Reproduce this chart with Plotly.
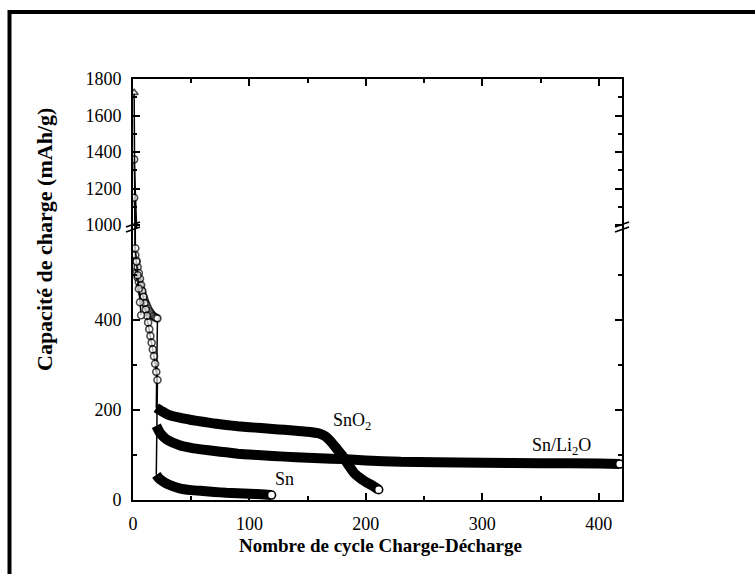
import plotly.graph_objects as go

# ---------------- data ----------------
# first ~20 cycles (open markers)
sno2_early_cycles = [1, 2, 3, 4, 5, 6, 7, 8, 9, 10, 11, 12, 13, 14, 15, 16, 17, 18, 19, 20, 21]
sno2_early_vals = [1360, 520, 505, 495, 485, 476, 468, 460, 452, 445, 438, 432, 426, 421, 417, 413, 410, 408, 406, 405, 404]

sn_early_cycles = [1, 2, 3, 4, 5, 6, 7, 8, 9, 10, 11, 12, 13, 14, 15, 16, 17, 18, 19, 20, 21]
sn_early_vals = [1725, 545, 532, 518, 505, 492, 478, 465, 452, 438, 424, 410, 395, 380, 365, 350, 335, 320, 303, 285, 267]

snli_early_cycles = [1, 2, 3, 4, 5, 6, 7]
snli_early_vals = [1150, 560, 530, 500, 470, 440, 411]

# long-term cycling (dense bands)
sno2_cycles = [20, 25, 30, 40, 50, 60, 70, 80, 90, 100, 110, 120, 130, 140, 150, 160, 165,
               170, 175, 180, 185, 190, 195, 200, 205, 211]
sno2_vals = [205, 197, 190, 183, 178, 174, 170, 167, 164, 162, 160, 158, 156, 154, 152, 148, 142,
             130, 114, 98, 78, 60, 49, 40, 33, 23]

snli_cycles = [20, 23, 26, 30, 40, 50, 60, 70, 80, 90, 100, 120, 140, 160, 180, 200, 230, 260,
               300, 350, 400, 418]
snli_vals = [165, 150, 141, 133, 122, 116, 112, 109, 106, 103, 101, 98, 95, 93, 91, 88, 85, 84,
             83, 82, 81, 80]

sn_cycles = [20, 22, 26, 30, 40, 50, 60, 70, 80, 90, 100, 110, 119]
sn_vals = [56, 49, 41, 35, 26, 22, 20, 18, 16, 15, 14, 13, 11]

x_ticks = [0, 100, 200, 300, 400]
x_minor = [50, 150, 250, 350]
y_low_ticks = [0, 200, 400]
y_low_minor = [100, 300, 500]
y_high_ticks = [1000, 1200, 1400, 1600, 1800]
y_high_minor = [1100, 1300, 1500, 1700]

x_title = "Nombre de cycle Charge-Décharge"
y_title = "Capacité de charge (mAh/g)"
labels = ["SnO<sub>2</sub>", "Sn/Li<sub>2</sub>O", "Sn"]
label_pos = [(188, 174), (368, 120), (130, 47)]

# ---------------- layout geometry ----------------
W, H = 755, 574
L, R, T, B = 133, 622, 79, 500
PW, PH = R - L, B - T
split = (B - 228) / PH


def px(xp):
    return (xp - L) / PW


def py(yp):
    return (B - yp) / PH


FONT = "Liberation Serif"
fig = go.Figure()


def early_traces(cx, cy, sym0, connect_to=None):
    xs, ys = list(cx), list(cy)
    sizes = [7] * len(xs)
    syms = [sym0] + ["circle"] * (len(xs) - 1)
    if connect_to is not None:
        xs.append(connect_to[0])
        ys.append(connect_to[1])
        sizes.append(0)
        syms.append("circle")
    out = []
    for xa, ya in (("x", "y"), ("x2", "y2")):
        out.append(go.Scatter(
            x=xs, y=ys, mode="lines+markers", xaxis=xa, yaxis=ya,
            line=dict(color="black", width=1.5),
            marker=dict(color="white", size=sizes, symbol=syms,
                        line=dict(color="black", width=1.6)),
            showlegend=False, hoverinfo="skip"))
    return out


for t in early_traces(sno2_early_cycles, sno2_early_vals, "circle",
                      (sno2_cycles[0], sno2_vals[0])):
    fig.add_trace(t)
for t in early_traces(sn_early_cycles, sn_early_vals, "triangle-up",
                      (sn_cycles[0], sn_vals[0])):
    fig.add_trace(t)
for t in early_traces(snli_early_cycles, snli_early_vals, "circle"):
    fig.add_trace(t)

# dense bands
for cx, cy in ((sno2_cycles, sno2_vals), (snli_cycles, snli_vals), (sn_cycles, sn_vals)):
    fig.add_trace(go.Scatter(
        x=cx, y=cy, mode="lines", line=dict(color="black", width=10, shape="spline", smoothing=0.4),
        showlegend=False, hoverinfo="skip", xaxis="x", yaxis="y"))
    fig.add_trace(go.Scatter(
        x=[cx[-1]], y=[cy[-1]], mode="markers",
        marker=dict(color="white", size=8, symbol="circle", line=dict(color="black", width=1.6)),
        showlegend=False, hoverinfo="skip", xaxis="x", yaxis="y"))

tickfont = dict(family=FONT, size=18, color="black")
common_x = dict(range=[0, 420], tickvals=x_ticks, ticks="inside", ticklen=7, tickwidth=1.5,
                tickcolor="black", showline=True, linecolor="black", linewidth=2,
                showgrid=False, zeroline=False,
                minor=dict(ticks="inside", tickvals=x_minor, ticklen=4, tickwidth=1.5,
                           tickcolor="black", showgrid=False))
common_y = dict(ticks="inside", ticklen=7, tickwidth=1.5, tickcolor="black", showline=True,
                linecolor="black", linewidth=2, mirror="ticks", showgrid=False, zeroline=False,
                tickfont=tickfont, ticklabelstandoff=6)

fig.update_layout(
    width=W, height=H,
    margin=dict(l=L, r=W - R, t=T, b=H - B, pad=0),
    paper_bgcolor="white", plot_bgcolor="white",
    xaxis=dict(domain=[0, 1], anchor="y", tickfont=tickfont, ticklabelstandoff=6, **common_x),
    xaxis2=dict(domain=[0, 1], anchor="y2", matches="x", side="top", showticklabels=False,
                **common_x),
    yaxis=dict(domain=[0, split], range=[0, 605], tickvals=y_low_ticks, anchor="x",
               minor=dict(ticks="inside", tickvals=y_low_minor, ticklen=4, tickwidth=1.5,
                          tickcolor="black", showgrid=False), **common_y),
    yaxis2=dict(domain=[split, 1], range=[984, 1800], tickvals=y_high_ticks, anchor="x2",
                minor=dict(ticks="inside", tickvals=y_high_minor, ticklen=4, tickwidth=1.5,
                           tickcolor="black", showgrid=False), **common_y),
    showlegend=False,
)

# series labels
for txt, (lx, ly) in zip(labels, label_pos):
    fig.add_annotation(x=lx, y=ly, xref="x", yref="y", text=txt, showarrow=False,
                       font=dict(family=FONT, size=18, color="black"),
                       xanchor="center", yanchor="middle")

# axis titles
fig.add_annotation(x=px(380), y=py(545), xref="paper", yref="paper", text=x_title,
                   showarrow=False, font=dict(family=FONT, size=19, color="black", weight="bold"),
                   xanchor="center", yanchor="middle")
fig.add_annotation(x=px(44), y=py(240), xref="paper", yref="paper", text=y_title,
                   textangle=-90, showarrow=False,
                   font=dict(family=FONT, size=22, color="black", weight="bold"),
                   xanchor="center", yanchor="middle")

# axis-break marks
for xa in (0, 1):
    for dy in (-4, 1):
        fig.add_shape(type="line", xref="paper", yref="paper", xsizemode="pixel",
                      ysizemode="pixel", xanchor=xa, yanchor=split,
                      x0=-7, x1=7, y0=dy, y1=dy + 5, line=dict(color="black", width=1.8))

# outer picture frame
fig.add_shape(type="rect", xref="paper", yref="paper", x0=px(9.5), x1=px(780), y0=py(600),
              y1=py(12), line=dict(color="black", width=4), fillcolor="rgba(0,0,0,0)", layer="above")

fig.write_html("out.html")
